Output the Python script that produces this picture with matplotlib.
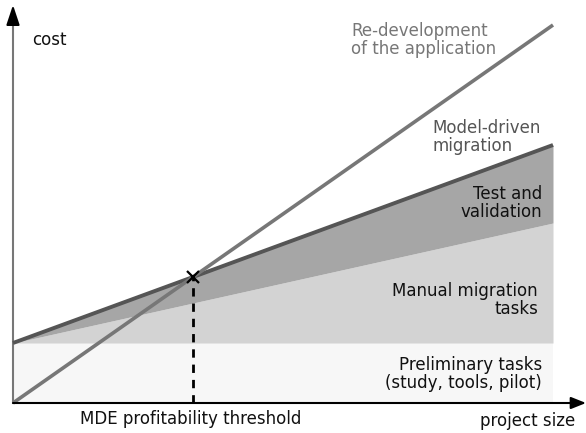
import matplotlib
matplotlib.use("Agg")
import matplotlib.pyplot as plt
import numpy as np

# project size (arbitrary units) and cost of each approach
size = np.array([0.0, 10.0])
preliminary = np.array([1.0, 1.0])
manual = np.array([1.0, 3.0])
model_driven = np.array([1.0, 4.3])
redevelopment = np.array([0.0, 6.3])

# where model-driven migration becomes cheaper than a re-development
k_md = (model_driven[1] - model_driven[0]) / (size[1] - size[0])
k_rd = (redevelopment[1] - redevelopment[0]) / (size[1] - size[0])
threshold = (model_driven[0] - redevelopment[0]) / (k_rd - k_md)
threshold_cost = redevelopment[0] + k_rd * threshold

fig = plt.figure(figsize=(5.86, 4.33), dpi=100)
ax = fig.add_axes([0, 0, 1, 1])
ax.set_xlim(-13 / 54, 573 / 54)
ax.set_ylim(-0.5, 403 / 60)
ax.axis("off")


def px(x):
    # figure pixel column -> data x
    return (x - 13) / 54


def py(y):
    # figure pixel row (from top) -> data y
    return (403 - y) / 60


fs = 12
# stacked cost areas
ax.fill_between(size, 0, preliminary, color="#f7f7f7", lw=0, zorder=1)
ax.fill_between(size, preliminary, manual, color="#d3d3d3", lw=0, zorder=1)
ax.fill_between(size, manual, model_driven, color="#a6a6a6", lw=0, zorder=1)

ax.plot(size, model_driven, color="#555555", lw=2.8, solid_capstyle="butt", zorder=3)
ax.plot(size, redevelopment, color="#777777", lw=2.6, solid_capstyle="butt", zorder=3)

# threshold marker
ax.plot([threshold, threshold], [0, threshold_cost], color="black", lw=2,
        ls=(0, (3, 2.5)), zorder=4)
ax.plot(threshold, threshold_cost, marker="x", color="black", ms=8, mew=1.6, zorder=5)

# axes with arrows
ytop = py(5)
xright = px(586)
ax.plot([0, 0], [0, ytop - 0.25], color="#777777", lw=1.5, zorder=2)
ax.annotate("", xy=(0, ytop), xytext=(0, ytop - 0.3),
            arrowprops=dict(arrowstyle="-|>,head_length=0.6,head_width=0.2",
                            color="black", lw=1.5, shrinkA=0, shrinkB=0,
                            mutation_scale=20), zorder=6)
ax.annotate("", xy=(xright, 0), xytext=(0, 0),
            arrowprops=dict(arrowstyle="-|>,head_length=0.45,head_width=0.18",
                            color="black", lw=1.5, shrinkA=0, shrinkB=0,
                            mutation_scale=20), zorder=6)

# labels
ax.text(px(32), py(40), "cost", fontsize=fs, ha="left", va="center", color="#111111")
ax.text(px(575), py(421), "project size", fontsize=fs, ha="right", va="center",
        color="#111111")
ax.text(px(191), py(419), "MDE profitability threshold", fontsize=fs, ha="center",
        va="center", color="#111111")
ax.text(px(351), py(40.5), "Re-development\nof the application", fontsize=fs,
        ha="left", va="center", color="#777777", linespacing=1.0)
ax.text(px(432), py(136.5), "Model-driven\nmigration", fontsize=fs, ha="left",
        va="center", color="#555555", linespacing=1.0)
ax.text(px(542), py(203), "Test and\nvalidation", fontsize=fs, ha="right",
        va="center", color="#111111", linespacing=1.0)
ax.text(px(538), py(300.5), "Manual migration\ntasks", fontsize=fs, ha="right",
        va="center", color="#111111", linespacing=1.0)
ax.text(px(542), py(374), "Preliminary tasks\n(study, tools, pilot)", fontsize=fs,
        ha="right", va="center", color="#111111", linespacing=1.0)

fig.savefig("out.png", dpi=100)
